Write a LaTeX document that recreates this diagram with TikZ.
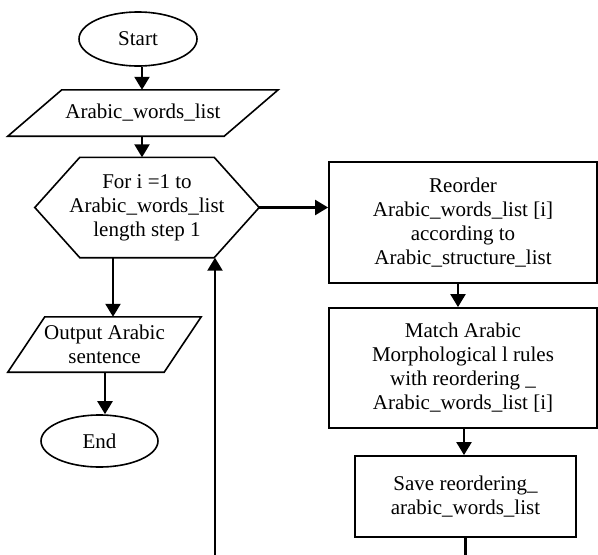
\documentclass[tikz,border=0pt]{standalone}
\usepackage{fontspec}
\setmainfont{Liberation Serif}
\usetikzlibrary{arrows.meta,shapes.geometric}

\begin{document}
\begin{tikzpicture}[x=1pt,y=-1pt,
  every node/.style={font=\fontsize{21}{24}\selectfont, align=center, inner sep=0pt},
  term/.style={draw, ellipse, line width=1.6pt},
  procbox/.style={draw, rectangle, line width=1.8pt},
  frame/.style={rectangle},
  outline/.style={line width=1.6pt, line join=miter},
  arr/.style={line width=2.2pt, -{Triangle[length=13pt,width=15pt]}}]

\useasboundingbox (0,0) rectangle (598,555);
\clip (0,0) rectangle (598,555);

% terminals
\node[term, minimum width=118pt, minimum height=54pt] (start) at (138,39) {Start};
\node[term, minimum width=117pt, minimum height=52pt] (end) at (99.5,441) {End};

% input parallelogram
\node[frame, minimum width=216pt, minimum height=46pt] (input) at (143,113) {Arabic\_words\_list};
\draw[outline] ([xshift=-27pt]input.south west) -- ([xshift=27pt]input.north west)
  -- ([xshift=27pt]input.north east) -- ([xshift=-27pt]input.south east) -- cycle;

% loop hexagon
\node[frame, minimum width=224pt, minimum height=100pt] (hex) at (147,207.5)
  {For i =1 to\\Arabic\_words\_list\\length step 1};
\draw[outline] (hex.west) -- ([xshift=45pt]hex.north west) -- ([xshift=-45pt]hex.north east)
  -- (hex.east) -- ([xshift=-45pt]hex.south east) -- ([xshift=45pt]hex.south west) -- cycle;

% output parallelogram
\node[frame, minimum width=156pt, minimum height=55pt] (output) at (104.5,344.5)
  {Output Arabic\\sentence};
\draw[outline] ([xshift=-18.5pt]output.south west) -- ([xshift=18.5pt]output.north west)
  -- ([xshift=18.5pt]output.north east) -- ([xshift=-18.5pt]output.south east) -- cycle;

% process boxes
\node[procbox, minimum width=268pt, minimum height=121pt] (reorder) at (463,222.5)
  {Reorder\\Arabic\_words\_list [i]\\according to\\Arabic\_structure\_list};
\node[procbox, minimum width=268pt, minimum height=120pt] (match) at (463,368)
  {Match Arabic\\Morphological l rules\\with reordering \_\\Arabic\_words\_list [i]};
\node[procbox, minimum width=221pt, minimum height=81pt] (save) at (465.5,496.5)
  {Save reordering\_\\arabic\_words\_list};

% connectors
\draw[arr] ([xshift=4pt]start.south) -- ([xshift=-1pt]input.north);
\draw[arr] ([xshift=-1pt]input.south) -- ([xshift=-5pt]hex.north);
\draw[arr] ([xshift=-34pt]hex.south) -- ([xshift=8.5pt]output.north);
\draw[arr] ([xshift=0.5pt]output.south) -- ([xshift=5.5pt]end.north);
\draw[arr] (hex.east) -- (hex.east -| reorder.west);
\draw[arr] ([xshift=-5pt]reorder.south) -- ([xshift=-5pt]match.north);
\draw[arr] ([xshift=1pt]match.south) -- ([xshift=-1.5pt]save.north);
\coordinate (loopturn) at (215,575);
\draw[arr] (save.south) |- (loopturn) -- ([xshift=68pt]hex.south);
\end{tikzpicture}
\end{document}
